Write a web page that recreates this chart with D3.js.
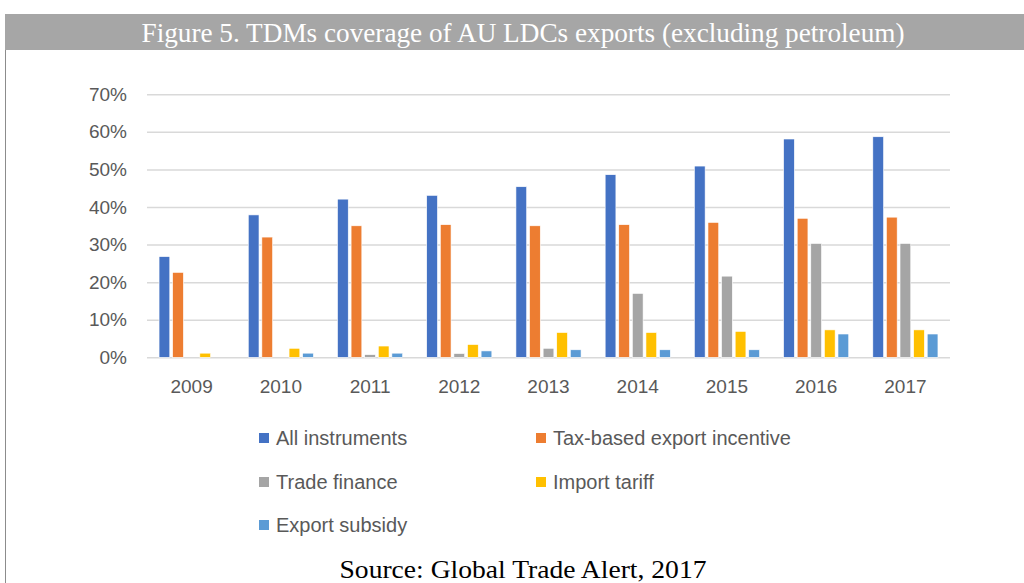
<!DOCTYPE html>
<html>
<head>
<meta charset="utf-8">
<script src="https://cdn.jsdelivr.net/npm/d3@7"></script>
<style>
  body { margin: 0; background: #fff; }
  svg { display: block; }
</style>
</head>
<body>
<svg id="root" width="1024" height="583"></svg>
<script>

const years = ['2009', '2010', '2011', '2012', '2013', '2014', '2015', '2016', '2017'];
const seriesNames = ['All instruments', 'Tax-based export incentive', 'Trade finance', 'Import tariff', 'Export subsidy'];
const seriesColors = ['#4472c4', '#ed7d31', '#a5a5a5', '#ffc000', '#5b9bd5'];

const allInstruments = [26.8, 37.9, 42.1, 43.1, 45.4, 48.6, 50.9, 58.1, 58.7];
const taxBased = [22.6, 32.0, 35.0, 35.3, 35.0, 35.3, 35.9, 37.0, 37.3];
const tradeFinance = [0, 0, 0.7, 1.0, 2.4, 17.0, 21.6, 30.3, 30.3];
const importTariff = [1.1, 2.4, 3.0, 3.4, 6.6, 6.6, 6.9, 7.3, 7.3];
const exportSubsidy = [0, 1.1, 1.1, 1.7, 2.0, 2.0, 2.0, 6.2, 6.2];

const yTicks = [0, 10, 20, 30, 40, 50, 60, 70];

const seriesValues = [allInstruments, taxBased, tradeFinance, importTariff, exportSubsidy];

const root = d3.select('#root');
const width = +root.attr('width');
const height = +root.attr('height');

// title banner
root.append('rect')
    .attr('x', 5).attr('y', 14)
    .attr('width', width - 5).attr('height', 36)
    .attr('fill', '#a6a6a6');
root.append('text')
    .attr('x', 523).attr('y', 42)
    .attr('text-anchor', 'middle')
    .attr('fill', '#fff')
    .attr('font-family', 'Liberation Serif, serif')
    .attr('font-size', 27)
    .attr('textLength', 763)
    .attr('lengthAdjust', 'spacingAndGlyphs')
    .text('Figure 5. TDMs coverage of AU LDCs exports (excluding petroleum)');

// left frame line
root.append('line')
    .attr('x1', 5.5).attr('x2', 5.5)
    .attr('y1', 50).attr('y2', height)
    .attr('stroke', '#8c8c8c').attr('stroke-width', 1);

const plotLeft = 147, plotRight = 950;
const y = d3.scaleLinear().domain([0, 70]).range([357.3, 94.3]);
const x0 = d3.scaleBand().domain(years).range([plotLeft, plotRight])
    .paddingInner(0.27).paddingOuter(0.135);
const x1 = d3.scaleBand().domain(seriesNames).range([0, x0.bandwidth()])
    .paddingInner(0.21).paddingOuter(0);

// gridlines + y labels
const yAxis = d3.axisLeft(y).tickValues(yTicks).tickFormat(d => d + '%')
    .tickSize(-(plotRight - plotLeft)).tickPadding(20);
const yg = root.append('g')
    .attr('transform', `translate(${plotLeft},0)`)
    .call(yAxis);
yg.select('.domain').remove();
yg.selectAll('.tick line').attr('stroke', '#d9d9d9').attr('stroke-width', 1.5);
yg.selectAll('.tick text')
    .attr('fill', '#595959')
    .attr('font-family', 'Liberation Sans, Arial, sans-serif')
    .attr('font-size', 19);

// x labels
const xAxis = d3.axisBottom(x0).tickSize(0).tickPadding(22);
const xg = root.append('g')
    .attr('transform', `translate(0,${y(0)})`)
    .call(xAxis);
xg.select('.domain').remove();
xg.selectAll('.tick text')
    .attr('fill', '#595959')
    .attr('font-family', 'Liberation Sans, Arial, sans-serif')
    .attr('font-size', 19);

// bars
const groups = root.append('g').selectAll('g')
    .data(years)
    .join('g')
    .attr('transform', d => `translate(${x0(d)},0)`);

groups.selectAll('rect')
    .data((d, i) => seriesNames.map((s, k) => ({ series: s, k: k, value: seriesValues[k][i] })))
    .join('rect')
    .filter(d => d.value > 0)
    .attr('x', d => x1(d.series))
    .attr('y', d => y(d.value))
    .attr('width', x1.bandwidth())
    .attr('height', d => y(0) - y(d.value))
    .attr('fill', d => seriesColors[d.k])
    .attr('stroke', '#fff')
    .attr('stroke-width', 0.6);

// legend
const legendPos = [[259, 438], [536, 438], [259, 482], [536, 482], [259, 525]];
const legend = root.append('g').selectAll('g')
    .data(seriesNames)
    .join('g')
    .attr('transform', (d, i) => `translate(${legendPos[i][0]},${legendPos[i][1]})`);
legend.append('rect')
    .attr('x', 0).attr('y', -5)
    .attr('width', 10).attr('height', 10)
    .attr('fill', (d, i) => seriesColors[i]);
legend.append('text')
    .attr('x', 17).attr('y', 7)
    .attr('fill', '#595959')
    .attr('font-family', 'Liberation Sans, Arial, sans-serif')
    .attr('font-size', 20)
    .text(d => d);

// source
root.append('text')
    .attr('x', 523).attr('y', 578)
    .attr('text-anchor', 'middle')
    .attr('fill', '#000')
    .attr('font-family', 'Liberation Serif, serif')
    .attr('font-size', 26)
    .attr('textLength', 367)
    .attr('lengthAdjust', 'spacingAndGlyphs')
    .text('Source: Global Trade Alert, 2017');

</script>
</body>
</html>
